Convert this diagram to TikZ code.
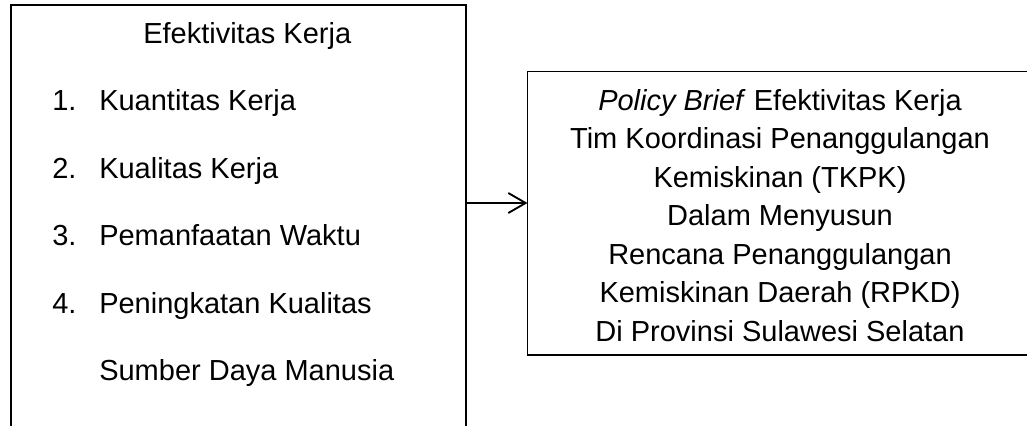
\documentclass[tikz,border=0pt]{standalone}
\usepackage{fontspec}
\setmainfont{Liberation Sans}
\usetikzlibrary{arrows.meta}
\tikzset{
  boxline/.style={line width=1.4pt, draw=black},
  txt/.style={inner sep=0pt, font=\fontsize{21.75pt}{26pt}\selectfont},
  lefttxt/.style={txt, anchor=base west},
  righttxt/.style={txt, anchor=base},
  arr/.style={line width=1.4pt, -{Straight Barb[length=13pt, width=15pt, line width=1.4pt]}}
}
\begin{document}
\begin{tikzpicture}[x=0.75pt, y=-0.75pt]
\useasboundingbox (0,0) rectangle (1027,425);
\fill[white] (0,0) rectangle (1027,425);
\clip (0,0) rectangle (1027,425);
% left box (open at the bottom, runs past the page)
\node[anchor=north west, inner sep=0pt, outer sep=0pt, minimum width=341pt, minimum height=330pt] (L) at (11,4.7) {};
\draw[boxline] (L.south west) -- (L.north west) -- (L.north east) -- (L.south east);
% right box
\node[boxline, draw, anchor=north west, inner sep=0pt, outer sep=0pt, minimum width=379pt, minimum height=212.6pt] (R) at (527.5,71.5) {};
% arrow
\coordinate (a) at (0,203);
\draw[arr] (L.north east |- a) -- (R.west |- a);
% left texts
\node[lefttxt] (t0) at (143,43) {Efektivitas Kerja};
\node[lefttxt] (n1) at (52,110) {1.};
\node[lefttxt] (t1) at (99,110) {Kuantitas Kerja};
\node[lefttxt] (n2) at (52,178) {2.};
\node[lefttxt] (t2) at (99,178) {Kualitas Kerja};
\node[lefttxt] (n3) at (52,245) {3.};
\node[lefttxt] (t3) at (99,245) {Pemanfaatan Waktu};
\node[lefttxt] (n4) at (52,313) {4.};
\node[lefttxt] (t4) at (99,313) {Peningkatan Kualitas};
\node[lefttxt] (t5) at (99,380) {Sumber Daya Manusia};
% right texts
\node[righttxt] (r1) at (780,110) {\textit{Policy Brief} Efektivitas Kerja};
\node[righttxt] (r2) at (780,148.5) {Tim Koordinasi Penanggulangan};
\node[righttxt] (r3) at (780,187) {Kemiskinan (TKPK)};
\node[righttxt] (r4) at (780,225.5) {Dalam Menyusun};
\node[righttxt] (r5) at (780,264) {Rencana Penanggulangan};
\node[righttxt] (r6) at (780,302.5) {Kemiskinan Daerah (RPKD)};
\node[righttxt] (r7) at (780,341) {Di Provinsi Sulawesi Selatan};
\end{tikzpicture}
\end{document}
